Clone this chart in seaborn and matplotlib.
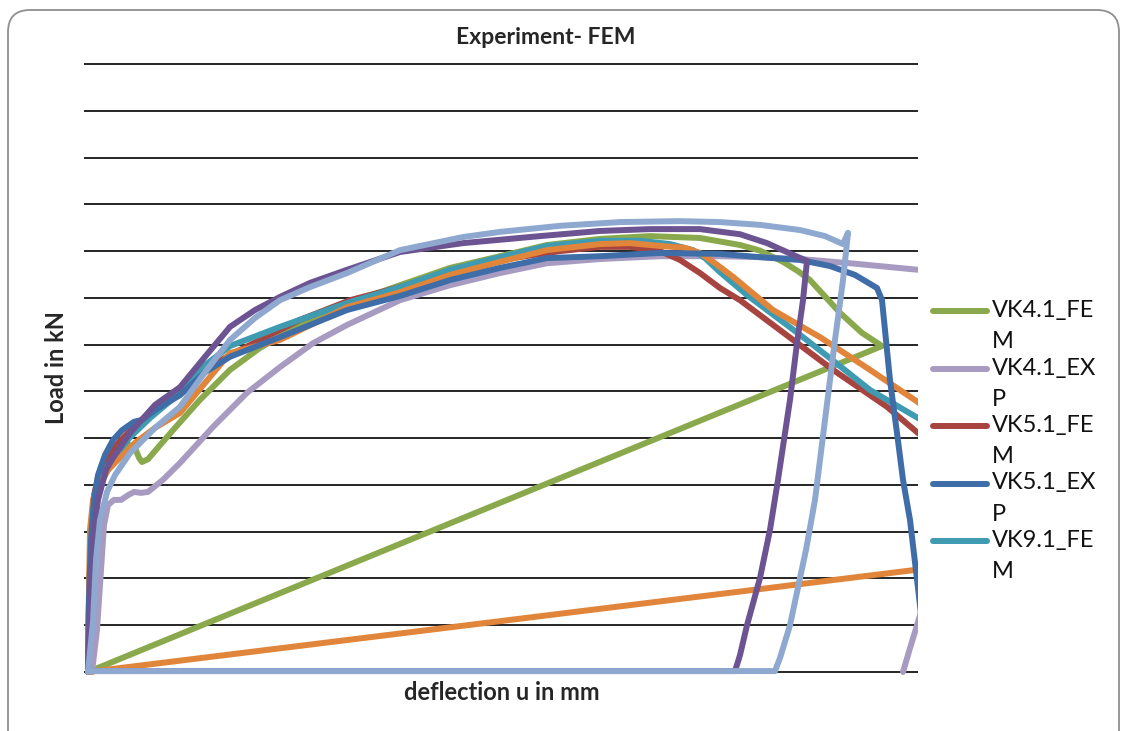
import numpy as np
import pandas as pd
import seaborn as sns
import matplotlib
matplotlib.use("Agg")
import matplotlib.pyplot as plt
from matplotlib.patches import FancyBboxPatch
from matplotlib.lines import Line2D

# ---------------- data (deflection in mm, load in kN) ----------------
vk41_fem_x = [0, 0.2, 0.4, 0.7, 1.2, 2.0, 3.0, 4.0, 4.7, 5.1, 5.4, 6.0, 7.2, 8.7, 11.2, 14.2, 17.2, 21.2,
              26.2, 31.2, 36.2, 41.2, 45.9, 51.2, 56.2, 61.2, 65.2, 67.2, 69.5, 71.0, 72.2, 75.2, 77.4, 79.4, 0]
vk41_fem_y = [0, 15.4, 28.2, 35.7, 40.0, 43.2, 46.4, 48.7, 47.9, 45.8, 44.9, 45.5, 48.5, 52.2, 58.2, 64.6,
              69.3, 74.2, 78.9, 82.7, 86.4, 88.9, 91.3, 92.6, 93.2, 92.8, 91.3, 90.1, 87.7, 85.7, 83.8, 76.8,
              72.5, 69.7, 0]

vk41_exp_x = [0.4, 0.9, 1.3, 1.6, 2.0, 2.6, 3.3, 4.0, 4.6, 5.3, 6.0, 7.5, 9.2, 12.5, 15.9, 19.2, 22.5, 25.9,
              31.2, 36.2, 41.2, 45.9, 51.2, 57.2, 63.2, 67.2, 71.2, 76.2, 83.0, 91.2, 87.2, 84.7, 83.7, 83.0,
              82.2, 81.5]
vk41_exp_y = [0, 9.0, 21.8, 31.4, 35.7, 36.8, 36.8, 37.8, 38.5, 38.3, 38.5, 41.1, 44.7, 52.4, 59.7, 65.2,
              70.3, 74.2, 79.5, 82.7, 85.3, 87.4, 88.3, 88.9, 88.9, 88.7, 88.3, 87.4, 86.0, 83.8, 45.3, 23.9,
              15.8, 10.7, 5.1, 0]

vk51_fem_x = [0, 0.1, 0.3, 0.6, 1.0, 1.6, 2.4, 3.3, 4.6, 6.2, 8.7, 11.7, 14.2, 17.2, 21.2, 26.2, 31.2, 36.2,
              41.2, 47.2, 51.2, 54.2, 57.2, 59.2, 61.2, 63.2, 65.2, 69.2, 74.5, 79.9, 83.0, 87.2]
vk51_fem_y = [0, 15.4, 30.4, 37.8, 41.5, 44.7, 47.5, 49.6, 52.4, 55.6, 59.9, 64.6, 67.8, 71.0, 75.3, 79.5,
              82.3, 85.5, 88.1, 90.0, 90.9, 90.9, 90.0, 88.1, 85.3, 82.1, 79.5, 73.1, 64.6, 56.7, 51.1, 45.3]

vk51_exp_x = [0, 0.1, 0.3, 0.6, 1.0, 1.7, 2.5, 3.4, 4.6, 5.4, 6.7, 9.2, 11.7, 14.2, 19.2, 25.9, 31.2, 36.2,
              41.2, 45.9, 51.2, 57.2, 63.2, 67.2, 71.2, 74.2, 76.7, 78.9, 79.4, 79.7, 80.2, 80.9, 81.5, 82.2,
              83.0, 83.7, 84.2]
vk51_exp_y = [0, 15.4, 28.2, 36.8, 42.1, 46.4, 49.6, 51.7, 53.5, 53.9, 56.0, 59.2, 64.1, 67.4, 71.6, 77.4,
              80.4, 83.8, 86.4, 88.5, 88.9, 89.6, 89.4, 88.7, 88.1, 86.8, 84.9, 82.1, 79.5, 73.1, 62.4, 51.1,
              41.1, 32.5, 18.0, 4.7, 0]

vk91_fem_x = [0, 0.1, 0.3, 0.6, 1.1, 1.9, 3.0, 4.2, 6.2, 9.2, 11.7, 14.2, 19.2, 25.9, 31.2, 36.2, 41.2, 45.9,
              51.2, 55.2, 58.2, 60.5, 61.7, 63.2, 65.9, 71.2, 74.2, 78.2, 83.0, 87.2]
vk91_fem_y = [0, 15.4, 28.2, 35.7, 40.0, 43.8, 47.0, 50.2, 54.3, 59.7, 65.6, 69.7, 73.8, 78.9, 82.3, 86.0,
              88.7, 91.1, 92.2, 92.2, 91.5, 90.2, 88.5, 85.5, 80.6, 72.1, 67.1, 60.3, 54.3, 49.6]

orange_x = [0, 0.1, 0.2, 0.5, 1.0, 2.0, 3.2, 4.7, 6.7, 9.2, 11.7, 14.2, 19.2, 25.9, 31.2, 36.2, 41.2, 45.9,
            51.2, 54.2, 57.2, 59.7, 61.2, 62.7, 64.5, 68.5, 73.2, 78.2, 83.0, 101.2, 0]
orange_y = [0, 17.5, 30.4, 36.8, 40.0, 43.2, 45.8, 49.0, 52.2, 55.4, 61.8, 68.2, 71.0, 78.0, 81.2, 84.9,
            87.7, 90.2, 91.5, 91.7, 91.1, 90.7, 89.6, 87.4, 84.5, 77.4, 71.6, 64.6, 57.7, 26.7, 0]

purple_x = [0, 0.2, 0.5, 1.0, 1.8, 2.5, 4.2, 6.7, 9.2, 11.7, 14.2, 16.7, 19.2, 22.2, 25.9, 31.2, 37.5, 45.2,
            51.2, 56.2, 61.2, 65.2, 67.9, 70.5, 71.9, 71.5, 70.9, 70.2, 69.0, 68.2, 67.2, 65.9, 65.2, 64.7, 0]
purple_y = [0, 15.4, 28.2, 36.8, 43.2, 45.8, 51.1, 57.1, 60.9, 67.4, 73.8, 77.4, 80.2, 83.2, 86.0, 89.8,
            91.7, 93.2, 94.3, 94.7, 94.7, 93.6, 91.7, 89.2, 87.9, 79.5, 70.3, 58.2, 41.1, 30.4, 20.1, 10.0,
            3.6, 0.2, 0.2]

lightblue_x = [0, 0.5, 0.8, 1.2, 1.9, 2.7, 4.2, 6.7, 9.2, 11.7, 14.2, 16.7, 19.2, 22.2, 25.9, 31.2, 37.5,
               41.2, 47.2, 53.2, 59.2, 63.2, 67.2, 71.2, 73.7, 75.5, 76.0, 75.5, 74.7, 73.7, 72.7, 71.8, 71.2,
               70.2, 69.2, 68.7, 0]
lightblue_y = [0, 10.7, 23.9, 32.5, 38.5, 42.1, 46.8, 52.2, 56.7, 64.1, 71.0, 75.7, 79.5, 82.3, 85.3, 90.2,
               93.0, 94.1, 95.4, 96.2, 96.4, 96.2, 95.6, 94.5, 93.2, 91.5, 93.9, 83.8, 71.0, 53.9, 36.8, 26.1,
               20.1, 10.0, 3.0, 0.2, 0.2]

legend_labels = ["VK4.1_FE\nM", "VK4.1_EX\nP", "VK5.1_FE\nM", "VK5.1_EX\nP", "VK9.1_FE\nM"]
title_text = "Experiment- FEM"
x_label = "deflection u in mm"
y_label = "Load in kN"

# ---------------- style ----------------
sns.set_theme(style="white")
plt.rcParams['font.family'] = ['Lato', 'DejaVu Sans']

series = [
    ("VK4.1_FEM", vk41_fem_x, vk41_fem_y, "#8AA94C"),
    ("VK4.1_EXP", vk41_exp_x, vk41_exp_y, "#A79BC2"),
    ("VK5.1_FEM", vk51_fem_x, vk51_fem_y, "#A8443F"),
    ("VK9.1_FEM", vk91_fem_x, vk91_fem_y, "#3E9BB2"),
    ("VK9.1_EXP", orange_x, orange_y, "#E0853A"),
    ("VK5.1_EXP", vk51_exp_x, vk51_exp_y, "#3F6DA8"),
    ("VK_A", purple_x, purple_y, "#6C5493"),
    ("VK_B", lightblue_x, lightblue_y, "#8EA8D0"),
]
color_of = {name: c for name, _, _, c in series}
legend_keys = ["VK4.1_FEM", "VK4.1_EXP", "VK5.1_FEM", "VK5.1_EXP", "VK9.1_FEM"]

W, H = 1126, 731
fig = plt.figure(figsize=(W / 100, H / 100), dpi=100)
fig.patch.set_facecolor("white")

# rounded chart frame (pixel coordinates)
frame = FancyBboxPatch((8, -30), 1111, 751, boxstyle="round,pad=0,rounding_size=22",
                       transform=None, facecolor="none", edgecolor="#8f8f8f", linewidth=1.3)
fig.patches.append(frame)

xmin, xmax = -0.4, 83.0
ymin, ymax = -0.8, 130.4
px_per_y = 608 / 130.0
ax_bottom_px = 672 + 0.8 * px_per_y
ax_top_px = 64 - 0.4 * px_per_y
ax_left_px = 88 + xmin * 10
ax = fig.add_axes([ax_left_px / W, (H - ax_bottom_px) / H, (918 - ax_left_px) / W,
                   (ax_bottom_px - ax_top_px) / H])
ax.set_facecolor("none")

for i, (name, xs, ys, c) in enumerate(series):
    df = pd.DataFrame({"u": xs, "F": ys})
    sns.lineplot(data=df, x="u", y="F", sort=False, estimator=None, ax=ax, color=c,
                 linewidth=4.3, solid_joinstyle="round", solid_capstyle="round", zorder=3 + i)

ax.set_xlim(xmin, xmax)
ax.set_ylim(ymin, ymax)
ax.set_yticks(np.arange(0, 131, 10))
ax.set_xticks([])
ax.grid(axis="y", color="black", linewidth=1.2, zorder=1)
ax.set_axisbelow(True)
ax.tick_params(axis="y", left=False, labelleft=False)
for s in ax.spines.values():
    s.set_visible(False)
ax.set_xlabel("")
ax.set_ylabel("")

# titles / axis labels
fig.text(546 / W, 1 - 37 / H, title_text, ha="center", va="center", fontsize=16.5, fontweight="bold")
fig.text(502 / W, 1 - 693 / H, x_label, ha="center", va="center", fontsize=17, fontweight="bold")
fig.text(56 / W, 1 - 368 / H, y_label, ha="center", va="center", rotation=90, fontsize=17,
         fontweight="bold")

# legend (handles aligned to first line of wrapped label)
leg_y0 = 311
leg_dy = 57.5
for k, (key, lab) in enumerate(zip(legend_keys, legend_labels)):
    yy = 1 - (leg_y0 + k * leg_dy) / H
    fig.add_artist(Line2D([933 / W, 987 / W], [yy, yy], color=color_of[key], linewidth=4.3,
                          solid_capstyle="round", transform=fig.transFigure))
    fig.text(992 / W, yy + 11 / H, lab, ha="left", va="top", fontsize=17, linespacing=1.6,
             color="#111111")

fig.savefig("out.png", dpi=100, facecolor="white")
